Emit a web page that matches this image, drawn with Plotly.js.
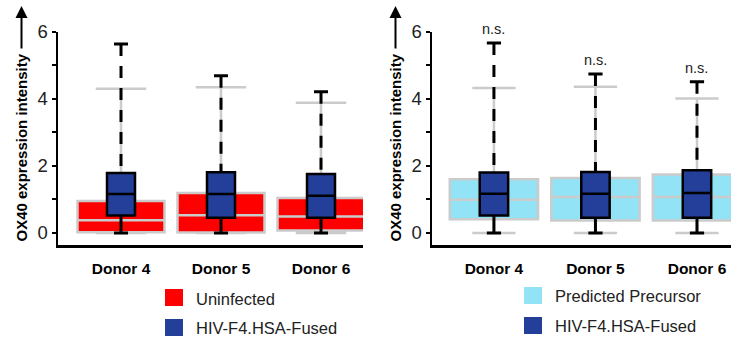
<!DOCTYPE html>
<html>
<head>
<meta charset="utf-8">
<script src="https://cdn.plot.ly/plotly-3.0.1.min.js"></script>
<style>html,body{margin:0;padding:0;background:#fff;}#chart{width:731px;height:339px;}</style>
</head>
<body>
<div id="chart"></div>
<script>
// ---------- DATA ----------
const donors = ['Donor 4', 'Donor 5', 'Donor 6'];
const yTickVals = [0, 1, 2, 3, 4, 5, 6];
const yTickText = ['0', '', '2', '', '4', '', '6'];
const yTitle = 'OX40 expression intensity';
const sigLabel = 'n.s.';

// Left panel: Uninfected
const uninfName = 'Uninfected';
const uninfLower = [0, 0, 0];
const uninfQ1 = [0.02, 0.01, 0.07];
const uninfMedian = [0.38, 0.53, 0.49];
const uninfQ3 = [0.95, 1.19, 1.04];
const uninfUpper = [4.30, 4.34, 3.88];

// Left panel: HIV-F4.HSA-Fused
const fusedName = 'HIV-F4.HSA-Fused';
const fusedLLower = [0, 0, 0];
const fusedLQ1 = [0.52, 0.45, 0.45];
const fusedLMedian = [1.16, 1.16, 1.11];
const fusedLQ3 = [1.79, 1.81, 1.76];
const fusedLUpper = [5.63, 4.69, 4.21];

// Right panel: Predicted Precursor
const precName = 'Predicted Precursor';
const precLower = [0, 0, 0];
const precQ1 = [0.41, 0.37, 0.37];
const precMedian = [0.99, 1.07, 1.07];
const precQ3 = [1.60, 1.64, 1.74];
const precUpper = [4.32, 4.36, 4.01];

// Right panel: HIV-F4.HSA-Fused
const fusedRLower = [0, 0, 0];
const fusedRQ1 = [0.52, 0.45, 0.45];
const fusedRMedian = [1.17, 1.17, 1.19];
const fusedRQ3 = [1.80, 1.82, 1.87];
const fusedRUpper = [5.66, 4.74, 4.51];

// ---------- STYLE ----------
const RED = '#FF0000', CYAN = '#92E3F5', NAVY = '#233F99', GREY = '#CBCBCB';
const FONT = 'Liberation Sans, Arial, Helvetica, sans-serif';
const W = 731, H = 339;
const px = v => v / W;
const py = v => 1 - v / H;
const xs = donors.map((d, i) => i);

function bgBox(name, lo, q1, med, q3, hi, fill, xa, ya, ww) {
  return {type: 'box', name: name, x: xs, lowerfence: lo, q1: q1, median: med, q3: q3, upperfence: hi,
    width: 0.87, whiskerwidth: ww, fillcolor: fill, line: {color: GREY, width: 2.5},
    boxpoints: false, hoverinfo: 'skip', xaxis: xa, yaxis: ya, showlegend: false};
}
function fgBox(name, q1, med, q3, xa, ya) {
  return {type: 'box', name: name, x: xs, lowerfence: q1, q1: q1, median: med, q3: q3, upperfence: q3,
    width: 0.28, whiskerwidth: 0, fillcolor: NAVY, line: {color: '#000', width: 2.5},
    boxpoints: false, hoverinfo: 'skip', xaxis: xa, yaxis: ya, showlegend: false};
}
function whiskers(lo, q1, q3, hi, xa, ya) {
  const capHalf = 0.07;
  const dx = [], dy = [], sx = [], sy = [];
  xs.forEach((x, i) => {
    dx.push(x, x, null); dy.push(hi[i], q3[i], null);
    sx.push(x, x, null); sy.push(lo[i], q1[i], null);
    sx.push(x - capHalf, x + capHalf, null); sy.push(hi[i], hi[i], null);
    sx.push(x - capHalf, x + capHalf, null); sy.push(lo[i], lo[i], null);
  });
  return [
    {type: 'scatter', mode: 'lines', x: dx, y: dy, line: {color: '#000', width: 3, dash: '12px,10px'},
      hoverinfo: 'skip', showlegend: false, xaxis: xa, yaxis: ya, connectgaps: false},
    {type: 'scatter', mode: 'lines', x: sx, y: sy, line: {color: '#000', width: 3},
      hoverinfo: 'skip', showlegend: false, xaxis: xa, yaxis: ya, connectgaps: false}
  ];
}

const data = [
  bgBox(uninfName, uninfLower, uninfQ1, uninfMedian, uninfQ3, uninfUpper, RED, 'x', 'y', 0.58),
  fgBox(fusedName, fusedLQ1, fusedLMedian, fusedLQ3, 'x', 'y'),
  bgBox(precName, precLower, precQ1, precMedian, precQ3, precUpper, CYAN, 'x2', 'y2', 0.49),
  fgBox(fusedName, fusedRQ1, fusedRMedian, fusedRQ3, 'x2', 'y2'),
  ...whiskers(fusedLLower, fusedLQ1, fusedLQ3, fusedLUpper, 'x', 'y'),
  ...whiskers(fusedRLower, fusedRQ1, fusedRQ3, fusedRUpper, 'x2', 'y2')
];

const yDomain = [py(245), py(31.7)];
function xAxis(domain, range) {
  return {domain: domain, range: range, tickvals: xs, ticktext: donors.map(d => '<b>' + d + '</b>'),
    ticks: '', showline: true, linecolor: '#000', linewidth: 2.5, showgrid: false, zeroline: false,
    tickfont: {family: FONT, size: 15.5, color: '#000'}, ticklabelstandoff: 8, fixedrange: true};
}
function yAxis(anchor) {
  return {domain: yDomain, range: [-0.36, 6], anchor: anchor, tickvals: yTickVals, ticktext: yTickText,
    ticks: 'outside', ticklen: 4, tickwidth: 2, tickcolor: '#000', showline: true, linecolor: '#000', linewidth: 2.5,
    showgrid: false, zeroline: false, tickfont: {family: FONT, size: 18.5, color: '#222'}, ticklabelstandoff: 0, fixedrange: true};
}

const annotations = [];
const shapes = [];
[[21.5], [395.5]].forEach(([cx]) => {
  annotations.push({xref: 'paper', yref: 'paper', x: px(cx), y: py(148), text: '<b>' + yTitle + '</b>', textangle: -90,
    showarrow: false, xanchor: 'center', yanchor: 'middle', font: {family: FONT, size: 15, color: '#000'}});
  annotations.push({xref: 'paper', yref: 'paper', x: px(cx), y: py(6), ax: 0, ay: 44, text: '', showarrow: true,
    arrowhead: 2, arrowsize: 1.2, arrowwidth: 2, arrowcolor: '#000'});
});
xs.forEach((x, i) => {
  annotations.push({xref: 'x2', yref: 'y2', x: x, y: fusedRUpper[i], text: sigLabel, showarrow: false,
    yanchor: 'bottom', yshift: 4, font: {family: FONT, size: 14.5, color: '#222'}});
});
const legends = [
  {x: 165, items: [[uninfName, RED, 289, 299], [fusedName, NAVY, 319, 328]]},
  {x: 524, items: [[precName, CYAN, 287, 296], [fusedName, NAVY, 317, 326]]}
];
legends.forEach(lg => {
  lg.items.forEach(([name, col, top, mid]) => {
    shapes.push({type: 'rect', xref: 'paper', yref: 'paper', x0: px(lg.x), x1: px(lg.x + 18), y0: py(top + 17), y1: py(top),
      fillcolor: col, line: {width: 0}});
    annotations.push({xref: 'paper', yref: 'paper', x: px(lg.x + 29), y: py(mid), text: name, showarrow: false,
      xanchor: 'left', yanchor: 'middle', font: {family: FONT, size: 16.5, color: '#222'}});
  });
});

const layout = {
  width: W, height: H, margin: {l: 0, r: 0, t: 0, b: 0},
  paper_bgcolor: '#fff', plot_bgcolor: '#fff', boxmode: 'overlay', showlegend: false,
  xaxis: xAxis([px(58), px(363)], [-0.63, 2.42]),
  yaxis: yAxis('x'),
  xaxis2: Object.assign(xAxis([px(432), 1], [-0.61, 2.335]), {anchor: 'y2'}),
  yaxis2: yAxis('x2'),
  annotations: annotations, shapes: shapes
};
layout.xaxis.anchor = 'y';

Plotly.newPlot('chart', data, layout, {displayModeBar: false, staticPlot: true});
</script>
</body>
</html>
